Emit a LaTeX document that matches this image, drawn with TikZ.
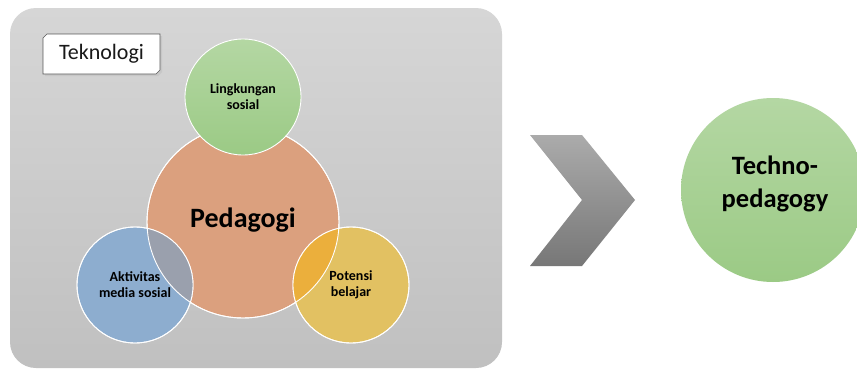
\documentclass[tikz,border=0pt]{standalone}
\usepackage{fontspec}
\setmainfont{Carlito}
\begin{document}
\begin{tikzpicture}[x=1pt,y=-1pt,
  bubble/.style={circle,inner sep=0pt,draw=white,line width=0.9pt},
  label/.style={font=\bfseries\fontsize{14}{16}\selectfont,align=center,text=black},
  greenfill/.style={top color=green1,bottom color=green2},
]
\definecolor{panelTop}{HTML}{D6D6D6}
\definecolor{panelBot}{HTML}{C0C0C0}
\definecolor{green1}{HTML}{B4D7A3}
\definecolor{green2}{HTML}{9BCA85}
\definecolor{orangeC}{HTML}{DBA07E}
\definecolor{blueC}{HTML}{8DADCF}
\definecolor{yellowC}{HTML}{E2C162}
\definecolor{blueOrange}{HTML}{9AA0AD}
\definecolor{yellowOrange}{HTML}{EBAF3C}
\definecolor{chevTop}{HTML}{ABABAB}
\definecolor{chevBot}{HTML}{777777}

\useasboundingbox (0,0) rectangle (857,383);
\fill[white] (0,0) rectangle (857,383);

% grey panel
\shade[top color=panelTop,bottom color=panelBot,rounded corners=26pt]
  (10,8) rectangle (502,368);

% label box with snipped corners and a faint shadow
\fill[black!22] (45,36) -- (162,36) -- (162,72) -- (158,76) -- (45,76) -- cycle;
\draw[fill=white,draw=black!65,line width=0.6pt]
  (47,34) -- (160,34) -- (160,70) -- (156,74) -- (43,74) -- (43,38) -- cycle;
\node[font=\fontsize{22}{26}\selectfont,text=black!90] (tek) at (101.5,54) {Teknologi};

% circles
\node[bubble,minimum size=192pt,fill=orangeC] (ped) at (243,222) {};
\node[bubble,minimum size=116pt,fill=blueC] (akt) at (135,285) {};
\node[bubble,minimum size=116pt,fill=yellowC] (pot) at (351,285) {};

% overlaps
\begin{scope}
  \clip (ped.center) circle (96pt);
  \fill[blueOrange] (akt.center) circle (58pt);
  \fill[yellowOrange] (pot.center) circle (58pt);
\end{scope}
\draw[white,line width=0.9pt] (ped.center) circle (96pt);
\draw[white,line width=0.9pt] (akt.center) circle (58pt);
\draw[white,line width=0.9pt] (pot.center) circle (58pt);

\node[bubble,minimum size=116pt,greenfill] (lin) at (243,97) {};

% labels
\node[label] at (lin.center) {Lingkungan\\sosial};
\node[font=\bfseries\fontsize{28}{32}\selectfont,text=black] at (243,220) {Pedagogi};
\node[label] at (akt.center) {Aktivitas\\media sosial};
\node[label] at (pot.center) {Potensi\\belajar};

% chevron
\shade[top color=chevTop,bottom color=chevBot]
  (530,135) -- (582,135) -- (635,200) -- (582,266) -- (530,266) -- (582,200) -- cycle;

% result
\node[circle,inner sep=0pt,minimum size=184pt,greenfill] (tp) at (773,190) {};
\node[font=\bfseries\fontsize{26.5}{33}\selectfont,align=center,text=black] at (775,184) {Techno-\\pedagogy};
\end{tikzpicture}
\end{document}
